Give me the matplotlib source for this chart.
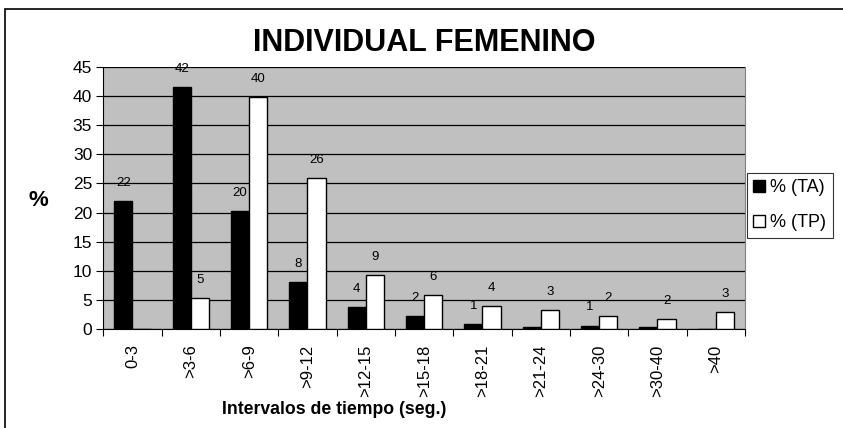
import numpy as np
import matplotlib.pyplot as plt
from matplotlib.patches import Rectangle

plt.rcParams['font.family'] = ['Liberation Sans', 'DejaVu Sans']

# datos
intervalos = ['0-3', '>3-6', '>6-9', '>9-12', '>12-15', '>15-18', '>18-21',
              '>21-24', '>24-30', '>30-40', '>40']
ta = [21.9, 41.5, 20.2, 8.1, 3.8, 2.3, 0.9, 0.3, 0.6, 0.3, 0.0]
tp = [0.0, 5.4, 39.8, 25.9, 9.2, 5.8, 4.0, 3.2, 2.3, 1.7, 2.9]
ta_labels = ['22', '42', '20', '8', '4', '2', '1', '', '1', '', '']
tp_labels = ['', '5', '40', '26', '9', '6', '4', '3', '2', '2', '3']

fig = plt.figure(figsize=(8.43, 4.28), dpi=100)
# marco exterior del grafico
fig.patches.append(Rectangle((5 / 843, -0.05), 1.1, 1 - 9 / 428 + 0.05,
                             transform=fig.transFigure, fill=False,
                             edgecolor='black', linewidth=1.2))

ax = fig.add_axes([103.3 / 843, 1 - 329 / 428, (745 - 103.3) / 843, (329 - 67) / 428])
ax.set_facecolor('#c0c0c0')

x = np.arange(len(intervalos))
w = 0.31
b1 = ax.bar(x - w / 2, ta, w, color='black', edgecolor='black', linewidth=1,
            label='% (TA)', zorder=3)
b2 = ax.bar(x + w / 2, tp, w, color='white', edgecolor='black', linewidth=1,
            label='% (TP)', zorder=3)

for i in range(len(x)):
    if ta_labels[i]:
        ax.annotate(ta_labels[i], (x[i] - w / 2, ta[i]), xytext=(0, 13),
                    textcoords='offset points', ha='center', va='center', fontsize=9.5)
    if tp_labels[i]:
        ax.annotate(tp_labels[i], (x[i] + w / 2, tp[i]), xytext=(0, 13),
                    textcoords='offset points', ha='center', va='center', fontsize=9.5)

ax.set_xlim(-0.5, len(x) - 0.5)
ax.set_ylim(0, 45)
ax.set_yticks(range(0, 46, 5))
ax.yaxis.grid(True, color='black', linewidth=0.9, zorder=1)
ax.set_axisbelow(True)
ax.set_xticks(x)
ax.set_xticklabels(intervalos, rotation=90, fontsize=12)
ax.set_xticks(np.arange(-0.5, len(x), 1), minor=True)
ax.tick_params(axis='x', which='major', length=0, pad=11)
ax.tick_params(axis='x', which='minor', length=5, width=0.8)
ax.tick_params(axis='y', length=5, width=0.8, labelsize=12.5, pad=3)

for s in ['left', 'bottom']:
    ax.spines[s].set_color('black')
ax.spines['top'].set_visible(False)
ax.spines['right'].set_color('#808080')

fig.text(424 / 843, 1 - 43 / 428, 'INDIVIDUAL FEMENINO', ha='center', va='center',
         fontsize=22, fontweight='bold')
fig.text(38 / 843, 1 - 201 / 428, '%', ha='center', va='center',
         fontsize=16, fontweight='bold')
fig.text(334 / 843, 1 - 409 / 428, 'Intervalos de tiempo (seg.)', ha='center',
         va='center', fontsize=12.7, fontweight='bold')

leg = fig.legend(handles=[b1, b2], loc='upper left', bbox_to_anchor=(747 / 843, 1 - 173 / 428),
                 fontsize=13, frameon=True, fancybox=False, edgecolor='black',
                 handlelength=0.65, handleheight=0.65, handletextpad=0.3,
                 borderpad=0.35, labelspacing=1.0, borderaxespad=0)
leg.get_frame().set_linewidth(0.8)

fig.savefig('out.png', dpi=100)
